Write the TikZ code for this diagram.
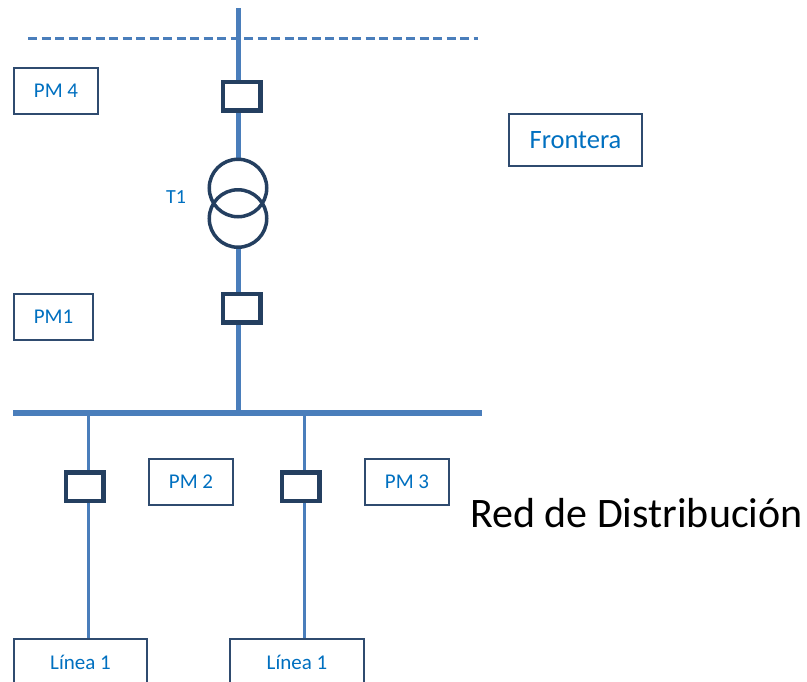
\documentclass[tikz,border=0pt]{standalone}
\usepackage{fontspec}
\setmainfont{Carlito}
\usepackage{tikz}
\usetikzlibrary{positioning}
\usetikzlibrary{backgrounds}
\definecolor{linea}{HTML}{4A7EBB}
\definecolor{marco}{HTML}{243F60}
\definecolor{borde}{HTML}{2F4B6F}
\definecolor{texto}{HTML}{0070C0}
\tikzset{
  interruptor/.style={draw=marco, line width=4.5pt, fill=white, minimum width=37.5pt, minimum height=28.5pt, inner sep=0pt},
  caja/.style={draw=borde, line width=1.8pt, fill=white, text=texto, font=\fontsize{21}{25}\selectfont, inner sep=0pt},
  trafo/.style={circle, draw=marco, line width=3.5pt, minimum size=57.5pt, inner sep=0pt},
  barra/.style={draw=linea, line width=5pt},
  ramal/.style={draw=linea, line width=3pt},
}

\begin{document}
\begin{tikzpicture}[x=1pt,y=-1pt]
\useasboundingbox (0,0) rectangle (807,681);
\coordinate (top) at (238.5,8);
\coordinate (fi) at (28,38);
\coordinate (fd) at (478,38);
\coordinate (bi) at (13,413);
\coordinate (bd) at (482,413);
\coordinate (m1) at (238.5,413);
\coordinate (r1) at (88,413);
\coordinate (r2) at (304,413);
% equipos
\node[interruptor] (cb4) at (241.5,96) {};
\node[trafo] (t1a) at (238,188) {};
\node[trafo] (t1b) at (238,218.5) {};
\node[interruptor] (cb1) at (241.5,308) {};
\node[interruptor] (cb2) at (84.5,486.5) {};
\node[interruptor] (cb3) at (300.5,486.5) {};
\node[text=texto, font=\fontsize{20}{24}\selectfont] (t1) at (176,197) {T1};
% cajas
\node[caja, minimum width=84pt, minimum height=46pt] (pm4) at (56,91) {PM 4};
\node[caja, minimum width=133pt, minimum height=52pt, font=\fontsize{26.5}{30}\selectfont] (fr) at (575.5,140) {Frontera};
\node[caja, minimum width=79pt, minimum height=46pt] (pm1) at (53.5,317) {PM1};
\node[caja, minimum width=84pt, minimum height=46pt] (pm2) at (191,482) {PM 2};
\node[caja, minimum width=84pt, minimum height=46pt] (pm3) at (407,482) {PM 3};
\node[caja, minimum width=133pt, minimum height=46pt] (l1) at (80.5,662) {Línea 1};
\node[caja, minimum width=134pt, minimum height=46pt] (l2) at (297,662) {Línea 1};
\node[anchor=base west, inner sep=0pt, font=\fontsize{42}{48}\selectfont] (red) at (470,527) {Red de Distribución};
% lineas
\draw[linea, line width=3pt, dash pattern=on 9pt off 4.5pt] (fi) -- (fd);
\begin{scope}[on background layer]
\draw[barra] (top) -- (top |- t1a.north);
\draw[barra] (top |- t1b.south) -- (m1);
\draw[ramal] (r1) -- (r1 |- l1.north);
\draw[ramal] (r2) -- (r2 |- l2.north);
\end{scope}
\draw[linea, line width=6pt] (bi) -- (bd);
\end{tikzpicture}
\end{document}
